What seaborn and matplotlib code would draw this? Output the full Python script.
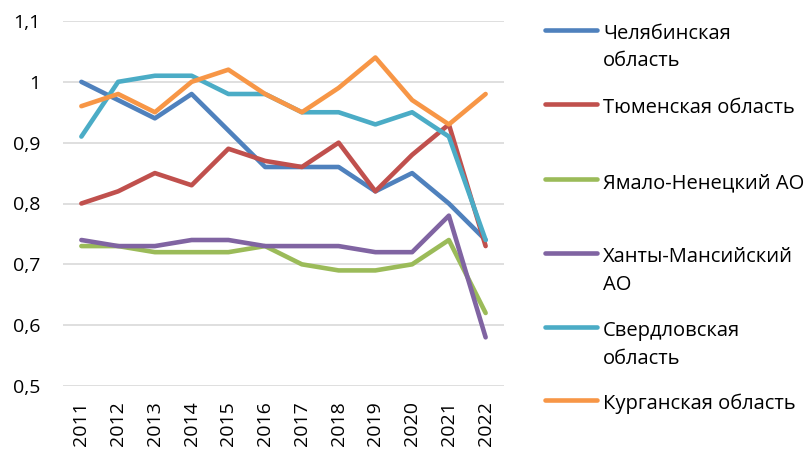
import numpy as np
import pandas as pd
import matplotlib
matplotlib.use("Agg")
import matplotlib.pyplot as plt
import seaborn as sns
from matplotlib.lines import Line2D

years = [str(y) for y in range(2011, 2023)]
chel = [1.00, 0.97, 0.94, 0.98, 0.92, 0.86, 0.86, 0.86, 0.82, 0.85, 0.80, 0.74]
tyum = [0.80, 0.82, 0.85, 0.83, 0.89, 0.87, 0.86, 0.90, 0.82, 0.88, 0.93, 0.73]
yanao = [0.73, 0.73, 0.72, 0.72, 0.72, 0.73, 0.70, 0.69, 0.69, 0.70, 0.74, 0.62]
hmao = [0.74, 0.73, 0.73, 0.74, 0.74, 0.73, 0.73, 0.73, 0.72, 0.72, 0.78, 0.58]
sverd = [0.91, 1.00, 1.01, 1.01, 0.98, 0.98, 0.95, 0.95, 0.93, 0.95, 0.91, 0.74]
kurg = [0.96, 0.98, 0.95, 1.00, 1.02, 0.98, 0.95, 0.99, 1.04, 0.97, 0.93, 0.98]

names = ["Челябинская область", "Тюменская область", "Ямало-Ненецкий АО",
         "Ханты-Мансийский АО", "Свердловская область", "Курганская область"]
legend_labels = ["Челябинская\nобласть", "Тюменская область", "Ямало-Ненецкий АО",
                 "Ханты-Мансийский\nАО", "Свердловская\nобласть", "Курганская область"]
series = [chel, tyum, yanao, hmao, sverd, kurg]
colors = ["#4F81BD", "#C0504D", "#9BBB59", "#8064A2", "#4BACC6", "#F79646"]
yticks = [0.5, 0.6, 0.7, 0.8, 0.9, 1.0, 1.1]
ytick_labels = ["0,5", "0,6", "0,7", "0,8", "0,9", "1", "1,1"]

rows = []
for n, vals in zip(names, series):
    for i, v in enumerate(vals):
        rows.append({"pos": i, "year": years[i], "region": n, "value": v})
df = pd.DataFrame(rows)

sns.set_theme(style="white")
plt.rcParams['font.family'] = ['Open Sans', 'DejaVu Sans']

fig = plt.figure(figsize=(8.12, 4.53), dpi=100)
W, H = 812, 453
ax = fig.add_axes([63 / W, 1 - 386 / H, (504 - 63) / W, (386 - 21) / H])

sns.lineplot(data=df, x="pos", y="value", hue="region", hue_order=names,
             palette=colors, linewidth=3.3, legend=False, ax=ax,
             solid_capstyle="round", solid_joinstyle="round")

ax.set_xlim(-0.5, 11.5)
ax.set_ylim(0.5, 1.1)
ax.set_yticks(yticks)
ax.set_yticklabels(ytick_labels, fontsize=14, color="#000000")
ax.set_xticks(range(len(years)))
ax.set_xticklabels(years, rotation=90, fontsize=14, color="#000000")
ax.tick_params(axis="y", length=0, pad=16)
ax.tick_params(axis="x", length=0, pad=11)
ax.grid(axis="y", color="#D9D9D9", linewidth=1.2)
ax.set_axisbelow(True)
for s in ax.spines.values():
    s.set_visible(False)
ax.set_xlabel("")
ax.set_ylabel("")

handle_y = [30, 104, 179, 253, 327, 400]
for lab, c, hy in zip(legend_labels, colors, handle_y):
    fy = 1 - hy / H
    fig.add_artist(Line2D([545 / W, 597 / W], [fy, fy], color=c, linewidth=3.3,
                          solid_capstyle="round", transform=fig.transFigure))
    fig.text(603 / W, 1 - (hy - 6) / H, lab, fontsize=14.5, va="top", ha="left",
             linespacing=1.5, color="#000000")

fig.savefig("out.png", dpi=100)
